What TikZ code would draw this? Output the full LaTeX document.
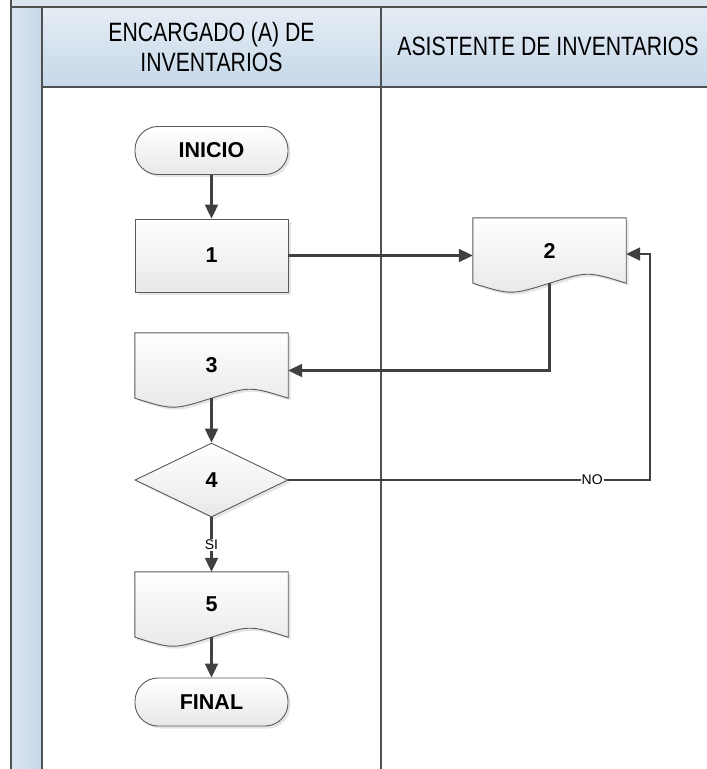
\documentclass[tikz,border=0pt]{standalone}
\usepackage{fontspec}
\setmainfont{Liberation Sans}
\newfontfamily\lanefont[FakeStretch=0.8]{Liberation Sans}
\usepackage{tikz}
\usetikzlibrary{arrows.meta,positioning,calc,shapes.geometric,backgrounds,shadows}
\definecolor{LaneBlue}{HTML}{DAE5F0}
\definecolor{LaneDeep}{HTML}{C6D8E9}
\definecolor{Frame}{HTML}{505050}
\definecolor{Wire}{HTML}{404040}
\definecolor{Edge}{HTML}{5A5A5A}

\begin{document}
\begin{tikzpicture}[x=1pt, y=-1pt, font=\bfseries\fontsize{21.5}{24}\selectfont, >={Triangle[length=14pt,width=13pt]}]
\tikzset{shp/.style={draw=Edge, line width=.9pt, top color=white, bottom color=black!9, drop shadow={shadow xshift=2.5pt, shadow yshift=-2.5pt, opacity=.2}}, term/.style={shp, rounded corners=23pt, minimum width=153pt, minimum height=48pt}, proc/.style={shp, minimum width=153pt, minimum height=73pt}, doc/.style={minimum width=153pt, minimum height=65pt}, dec/.style={shp, diamond, minimum width=153pt, minimum height=74pt, inner sep=0pt}, wire/.style={->, draw=Wire, line width=2.1pt}, tag/.style={font=\normalfont\fontsize{14}{16}\selectfont, fill=white, inner sep=1pt}, lane/.style={draw=Frame, line width=1.8pt}, head/.style={font=\lanefont\fontsize{26.5}{30}\selectfont, align=center}}
\useasboundingbox (0,0) rectangle (707,769);
% swimlanes
\fill[LaneBlue] (11,0) rectangle (707,7);
\shade[left color=LaneBlue, right color=LaneDeep] (11,7) rectangle (42,769);
\shade[top color=LaneBlue!70!white, bottom color=LaneDeep] (42,7) rectangle (707,87);
\draw[lane] (11,0) -- (11,769) (42,7) -- (42,769) (381,7) -- (381,769) (11,7) -- (707,7) (42,87) -- (707,87);
\node[head] (hdenc) at (211.5,47) {ENCARGADO (A) DE\\INVENTARIOS};
\node[head] (hdasi) at (548,46) {ASISTENTE DE INVENTARIOS};
% flow
\node[term] (inicio) at (211.5,150.5) {INICIO};
\node[proc] (p1) at (211.5,255.5) {1};
\node[doc] (d2) at (549.5,250.5) {2};
\node[doc] (d3) at (211.5,365.5) {3};
\node[dec] (q4) at (211.5,480) {4};
\node[doc] (d5) at (211.5,604.5) {5};
\node[term] (final) at (211.5,702) {FINAL};
\begin{scope}[on background layer]
\fill[white] (0,0) rectangle (707,769);
\foreach \n in {d2,d3,d5} \draw[shp] (\n.south west) -- (\n.north west) -- (\n.north east) -- (\n.south east) .. controls ($(\n.south)!.5!(\n.south east)+(0pt,12pt)$) and ($(\n.south)!.5!(\n.south east)+(0pt,12pt)$) .. (\n.south) .. controls ($(\n.south)!.5!(\n.south west)+(0pt,-12pt)$) and ($(\n.south)!.5!(\n.south west)+(0pt,-12pt)$) .. (\n.south west) -- cycle;
\end{scope}
\foreach \x/\y in {inicio/p1,d3/q4,d5/final} \draw[wire] (\x)--(\y);
\draw[wire] (p1.east) -- (p1.east -| d2.west);
\draw[wire] (d2.south) |- ([yshift=-5pt]d3.east);
\draw[wire] (q4.south) -- node[tag]{SI} (d5.north);
\coordinate (noup) at (650,254);
\draw[wire] (q4.east) -| node[tag, pos=.42]{NO} (noup) -- (noup -| d2.east);
\end{tikzpicture}
\end{document}
